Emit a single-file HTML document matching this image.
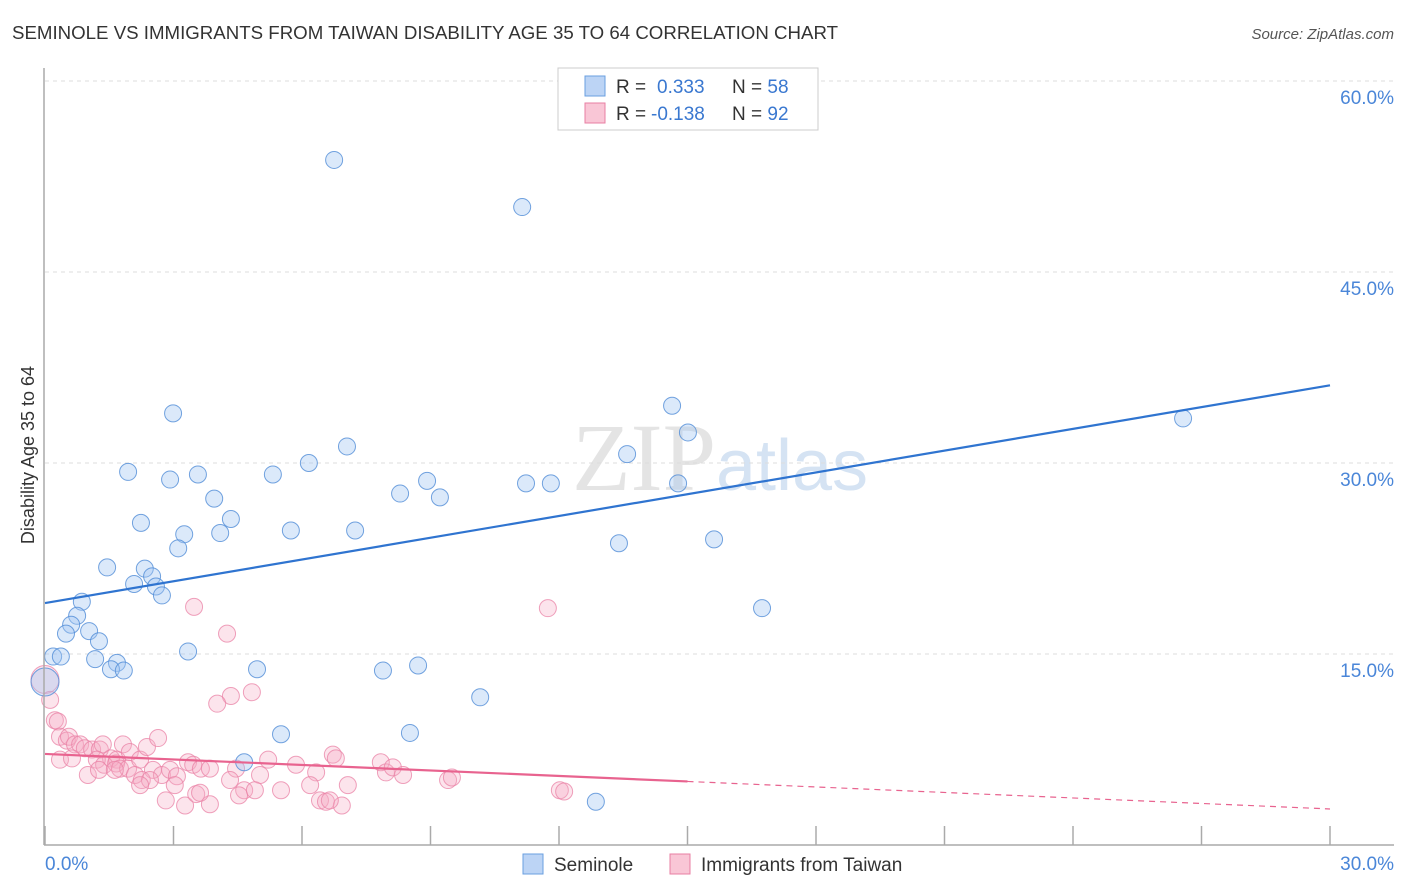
<!DOCTYPE html>
<html><head><meta charset="utf-8"><style>
body{margin:0;background:#fff;font-family:"Liberation Sans",sans-serif;}
svg{display:block}
</style></head><body>
<svg id="c" width="1406" height="892" xmlns="http://www.w3.org/2000/svg">
<text x="12" y="39" font-size="18" fill="#333" textLength="826" lengthAdjust="spacingAndGlyphs">SEMINOLE VS IMMIGRANTS FROM TAIWAN DISABILITY AGE 35 TO 64 CORRELATION CHART</text>
<text x="1394" y="39" font-size="15" fill="#555" font-style="italic" text-anchor="end">Source: ZipAtlas.com</text>
<text x="720" y="490" font-size="96" fill="#e4e4e4" text-anchor="middle" font-family="Liberation Serif,serif">ZIP<tspan fill="#d5e3f3" font-family="Liberation Sans,sans-serif" font-size="72">atlas</tspan></text>
<text transform="translate(34,455) rotate(-90)" font-size="18" fill="#333" text-anchor="middle">Disability Age 35 to 64</text>
<g id="grid"></g><g id="pts"></g><g id="lines"></g>
<line x1="44" y1="68" x2="44" y2="845" stroke="#aaa" stroke-width="1.5"/>
<line x1="44" y1="845" x2="1394" y2="845" stroke="#aaa" stroke-width="1.5"/>
<text x="45" y="870" font-size="19" fill="#4a86d8">0.0%</text>
<text x="1394" y="870" font-size="19" fill="#4a86d8" text-anchor="end">30.0%</text>
<g>
<rect x="558" y="68" width="260" height="62" fill="#fff" stroke="#ccc"/>
<rect x="585" y="76" width="20" height="20" fill="#bcd4f5" stroke="#6a9fe0"/>
<rect x="585" y="103" width="20" height="20" fill="#f9c6d6" stroke="#e87fa3"/>
<text x="616" y="93" font-size="19" fill="#333">R = <tspan x="657" fill="#3a78d0">0.333</tspan><tspan x="732">N = </tspan><tspan fill="#3a78d0">58</tspan></text>
<text x="616" y="120" font-size="19" fill="#333">R = <tspan x="651" fill="#3a78d0">-0.138</tspan><tspan x="732">N = </tspan><tspan fill="#3a78d0">92</tspan></text>
</g>
<g>
<rect x="523" y="854" width="20" height="20" fill="#bcd4f5" stroke="#6a9fe0"/>
<text x="554" y="871" font-size="19" fill="#333">Seminole</text>
<rect x="670" y="854" width="20" height="20" fill="#f9c6d6" stroke="#e87fa3"/>
<text x="701" y="871" font-size="19" fill="#333">Immigrants from Taiwan</text>
</g>
</svg>
<script>
const yTicks=[15,30,45,60];
const xTicks=[0,3,6,9,12,15,18,21,24,27,30];
const blueX=[6.75,11.14,2.99,14.64,15.01,7.05,13.59,1.94,2.92,3.57,5.32,6.16,8.92,11.23,11.81,14.78,8.29,9.22,3.95,4.34,2.24,5.74,7.24,3.25,4.09,3.11,13.40,15.62,1.45,2.33,2.50,2.08,2.59,2.73,0.86,0.75,0.61,0.49,1.03,1.26,16.74,3.34,0.19,0.37,1.17,1.68,1.54,1.84,4.95,7.89,8.71,10.16,0,5.51,8.52,4.65,12.86,26.57];
const blueY=[53.8,50.1,33.9,34.5,32.4,31.3,30.7,29.3,28.7,29.1,29.1,30.0,28.6,28.4,28.4,28.4,27.6,27.3,27.2,25.6,25.3,24.7,24.7,24.4,24.5,23.3,23.7,24.0,21.8,21.7,21.1,20.5,20.3,19.6,19.1,18.0,17.3,16.6,16.8,16.0,18.6,15.2,14.8,14.8,14.6,14.3,13.8,13.7,13.8,13.7,14.1,11.6,12.8,8.7,8.8,6.5,3.4,33.5];
const pinkX=[3.48,11.74,4.25,4.83,4.34,4.02,0,0.12,0.23,0.30,0.35,0.51,0.56,0.70,0.82,0.93,1.10,1.28,1.35,1.54,1.68,1.82,1.98,1.21,1.38,1.66,1.75,1.94,2.22,2.38,2.64,2.52,2.73,2.92,3.08,3.34,3.46,3.64,2.10,2.26,2.45,1.00,1.26,2.82,3.27,3.53,3.85,3.62,4.46,4.65,4.53,5.02,5.21,5.51,5.86,6.33,6.19,6.42,6.56,6.72,6.79,6.93,7.07,7.84,7.96,8.12,8.36,9.41,9.50,12.02,12.12,4.32,3.03,2.22,0.35,0.63,1.63,3.85,4.90,6.65];
const pinkY=[18.7,18.6,16.6,12.0,11.7,11.1,13.0,11.4,9.8,9.7,8.5,8.2,8.5,7.9,7.9,7.6,7.5,7.5,7.9,6.8,6.7,7.9,7.3,6.7,6.3,6.4,6.0,6.0,6.7,7.7,8.4,5.9,5.5,5.9,5.4,6.5,6.3,6.0,5.5,5.1,5.1,5.5,5.9,3.5,3.1,4.0,3.2,4.1,6.0,4.3,3.9,5.5,6.7,4.3,6.3,5.7,4.7,3.5,3.4,7.1,6.8,3.1,4.7,6.5,5.7,6.1,5.5,5.1,5.3,4.3,4.2,5.1,4.7,4.7,6.7,6.8,5.9,6.0,4.3,3.5];
const blueTrend=[19.0,36.1];
const pinkTrend=[7.15,2.83];
const sx=v=>45+v/30*1285, sy=v=>845-v/15*191;
const NS='http://www.w3.org/2000/svg';
function mk(tag,attrs,parent){const e=document.createElementNS(NS,tag);for(const k in attrs)e.setAttribute(k,attrs[k]);parent.appendChild(e);return e;}
const grid=document.getElementById('grid'),pts=document.getElementById('pts'),lines=document.getElementById('lines');
yTicks.forEach(t=>{
 const l=mk('line',{x1:45,x2:1394,y1:sy(t),y2:sy(t),stroke:'#ddd','stroke-dasharray':'4,4'},grid);
 
 
 const tx=mk('text',{x:1394,y:sy(t)+23,'font-size':19,fill:'#4a86d8','text-anchor':'end'},grid);
 tx.textContent=t.toFixed(1)+'%';
 
 
});
xTicks.forEach(t=>{
 const l=mk('line',{x1:sx(t),x2:sx(t),y1:826,y2:845,stroke:'#aaa','stroke-width':1.5},grid);
 
 
});
pinkX.forEach((x,i)=>{
 const c=mk('circle',{cx:sx(x),cy:sy(pinkY[i]),r:(x===0?14:8.5),fill:'rgba(246,170,196,0.32)',stroke:'rgba(234,130,165,0.75)','stroke-width':1},pts);
 
 
});
blueX.forEach((x,i)=>{
 const c=mk('circle',{cx:sx(x),cy:sy(blueY[i]),r:(x===0?14:8.5),fill:'rgba(160,196,242,0.38)',stroke:'rgba(80,140,215,0.8)','stroke-width':1},pts);
 
 
});
const bl=mk('line',{x1:sx(0),y1:sy(blueTrend[0]),x2:sx(30),y2:sy(blueTrend[1]),stroke:'#2f74d0','stroke-width':2.2},lines);


const pm=pinkTrend[0]+(pinkTrend[1]-pinkTrend[0])*15/30;
const pl=mk('line',{x1:sx(0),y1:sy(pinkTrend[0]),x2:sx(15),y2:sy(pm),stroke:'#e8638f','stroke-width':2.2},lines);


const pd=mk('line',{x1:sx(15),y1:sy(pm),x2:sx(30),y2:sy(pinkTrend[1]),stroke:'#e8638f','stroke-width':1.2,'stroke-dasharray':'6,5'},lines);


</script>
</body></html>
